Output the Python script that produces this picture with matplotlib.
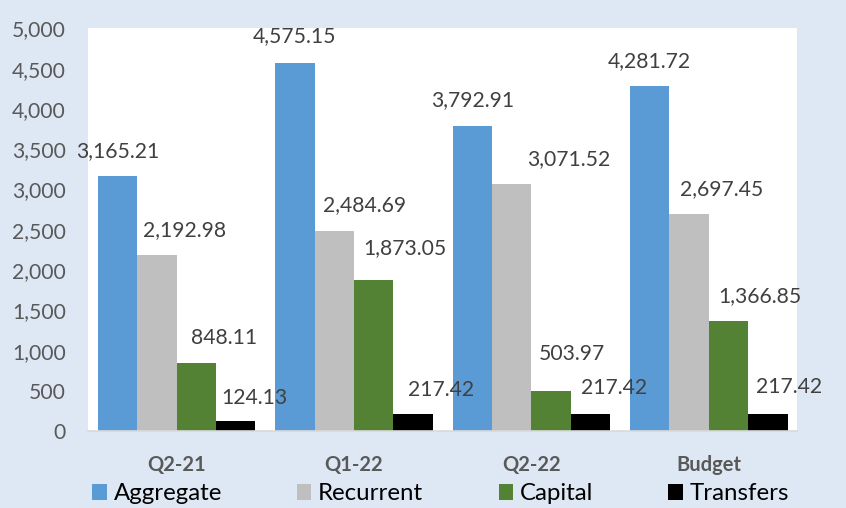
import matplotlib
matplotlib.use("Agg")
import matplotlib.pyplot as plt
import numpy as np
from matplotlib.patches import Patch

plt.rcParams['font.family'] = ['Lato', 'DejaVu Sans']

categories = ["Q2-21", "Q1-22", "Q2-22", "Budget"]
series_names = ["Aggregate", "Recurrent", "Capital", "Transfers"]
aggregate = [3165.21, 4575.15, 3792.91, 4281.72]
recurrent = [2192.98, 2484.69, 3071.52, 2697.45]
capital = [848.11, 1873.05, 503.97, 1366.85]
transfers = [124.13, 217.42, 217.42, 217.42]
yticks = [0, 500, 1000, 1500, 2000, 2500, 3000, 3500, 4000, 4500, 5000]

series = [aggregate, recurrent, capital, transfers]
colors = ["#5B9BD5", "#BFBFBF", "#548235", "#000000"]

# label offsets (pixels) relative to bar top-centre, as placed in the original
label_dx = [[0, 0, 0, 0],
            [28, 30, 57, 33],
            [28, 31, 21, 31],
            [19, 28, 24, 21]]
label_dy = [[25, 26, 26, 25],
            [25, 26, 25, 25],
            [25, 32, 37, 25],
            [23, 24, 26, 27]]

fig = plt.figure(figsize=(8.46, 5.08), dpi=100, facecolor="#DEE8F4")
ax = fig.add_axes([0.1040, 0.1506, 0.8386, 0.7937])
ax.set_facecolor("white")

x = np.arange(len(categories))
bw = 0.222
for i, (vals, c) in enumerate(zip(series, colors)):
    pos = x + (i - 1.5) * bw
    ax.bar(pos, vals, width=bw, color=c, edgecolor="none", zorder=2)
    for j, (p, v) in enumerate(zip(pos, vals)):
        ax.annotate(f"{v:,.2f}", xy=(p, v), xytext=(label_dx[i][j], label_dy[i][j]),
                    textcoords="offset pixels", ha="center", va="center",
                    fontsize=15.2, color="#404040", zorder=3, annotation_clip=False)

ax.set_xlim(-0.5, len(categories) - 0.5)
ax.set_ylim(0, 5000)
ax.set_yticks(yticks)
ax.set_yticklabels([f"{t:,}" for t in yticks], fontsize=15.2, color="#595959")
ax.set_xticks(x)
ax.set_xticklabels(categories, fontsize=14.5, fontweight="bold", color="#595959")
ax.tick_params(axis="y", length=0, pad=16)
ax.tick_params(axis="x", length=0, pad=17)
for s in ["left", "right", "top"]:
    ax.spines[s].set_visible(False)
ax.spines["bottom"].set_color("#D9D9D9")
ax.spines["bottom"].set_linewidth(1.2)
ax.spines["bottom"].set_zorder(4)

handles = [Patch(facecolor=c, edgecolor="none", label=n) for n, c in zip(series_names, colors)]
fig.legend(handles=handles, loc="center left", bbox_to_anchor=(92.3 / 846, 1 - 494 / 508),
           ncol=4, frameon=False, fontsize=17.3, handlelength=0.6, handleheight=0.6,
           handletextpad=0.28, columnspacing=3.13, borderpad=0, borderaxespad=0)

fig.savefig("out.png", dpi=100, facecolor=fig.get_facecolor())
